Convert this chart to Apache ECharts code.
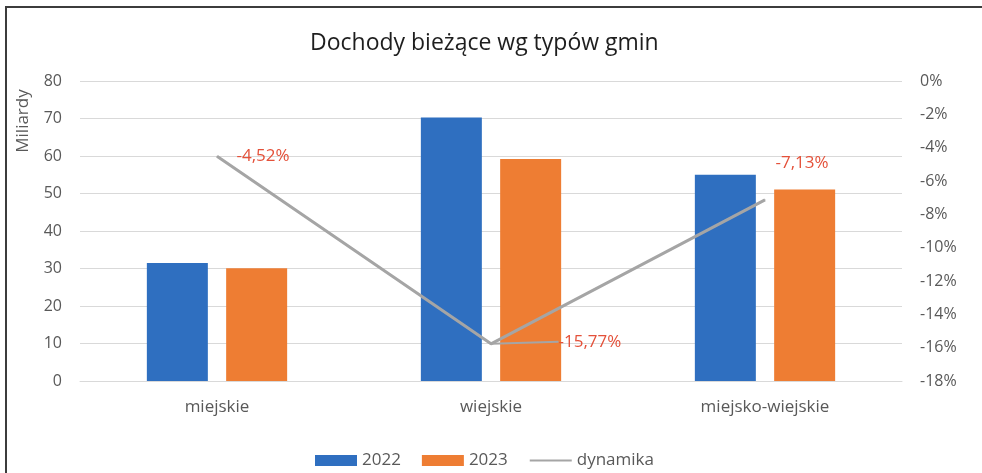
<!DOCTYPE html>
<html>
<head>
<meta charset="utf-8">
<script src="https://cdn.jsdelivr.net/npm/echarts@6/dist/echarts.min.js"></script>
<style>
    html, body { margin: 0; padding: 0; background: #fff; }
    #main { position: absolute; left: 0; top: 0; width: 982px; height: 473px; }
    #frame {
        position: absolute; left: 5px; top: 6px; right: 0; bottom: 0;
        border-top: 2px solid #3c3c3c; border-left: 2px solid #3c3c3c;
        pointer-events: none;
    }
</style>
</head>
<body>
<div id="main"></div>
<div id="frame"></div>
<script>
    // chart values
    const categories = ['miejskie', 'wiejskie', 'miejsko-wiejskie'];
    const values2022 = [31.5, 70.3, 55.0];
    const values2023 = [30.1, 59.2, 51.1];
    const dynamika = [-4.52, -15.77, -7.13];

    const leftTicks = { min: 0, max: 80, step: 10 };
    const rightTicks = { min: -18, max: 0, step: 2 };

    const labelColor = '#595959';
    const font = 'Open Sans';

    // label shifts so they sit like the excel data labels (with leader lines)
    const labelShift = [
        { dx: 14, dy: 0, line: false },
        { dx: 62, dy: -2, line: true },
        { dx: 5, dy: -37, line: false }
    ];

    const chartDom = document.getElementById('main');
    const myChart = echarts.init(chartDom);

    const pct = v => v.toFixed(2).replace('.', ',') + '%';

    const option = {
        animation: false,
        textStyle: { fontFamily: font },
        title: {
            text: 'Dochody bieżące wg typów gmin',
            left: 305,
            top: 27,
            textStyle: { fontFamily: font, fontSize: 23, fontWeight: 'normal', color: '#1e1e1e' }
        },
        legend: {
            left: 310,
            top: 447,
            itemWidth: 42,
            itemHeight: 11,
            itemGap: 21,
            textStyle: { fontFamily: font, fontSize: 17, color: labelColor },
            data: [
                { name: '2022', icon: 'rect' },
                { name: '2023', icon: 'rect' },
                { name: 'dynamika', itemStyle: { opacity: 0 } }
            ]
        },
        grid: { left: 80, right: 80, top: 81, bottom: 92, containLabel: false },
        xAxis: {
            type: 'category',
            data: categories,
            axisTick: { show: false },
            axisLine: { lineStyle: { color: '#d9d9d9', width: 1 } },
            axisLabel: { color: labelColor, fontSize: 17, margin: 18 }
        },
        yAxis: [
            {
                type: 'value',
                min: leftTicks.min,
                max: leftTicks.max,
                interval: leftTicks.step,
                axisLine: { show: false },
                axisTick: { show: false },
                axisLabel: { color: labelColor, fontSize: 16, margin: 18 },
                splitLine: { lineStyle: { color: '#d9d9d9', width: 1 } }
            },
            {
                type: 'value',
                min: rightTicks.min,
                max: rightTicks.max,
                interval: rightTicks.step,
                axisLine: { show: false },
                axisTick: { show: false },
                splitLine: { show: false },
                axisLabel: {
                    color: labelColor, fontSize: 16, margin: 18,
                    formatter: v => (v === 0 ? 0 : v) + '%'
                }
            }
        ],
        graphic: [{
            type: 'text',
            x: 23,
            y: 121,
            rotation: Math.PI / 2,
            style: {
                text: 'Miliardy',
                fill: labelColor,
                font: '17px "Open Sans"',
                align: 'center',
                verticalAlign: 'middle'
            }
        }],
        series: [
            {
                name: '2022',
                type: 'bar',
                data: values2022,
                barWidth: 61,
                barGap: '30%',
                itemStyle: { color: '#2f6fc0' }
            },
            {
                name: '2023',
                type: 'bar',
                data: values2023,
                barWidth: 61,
                itemStyle: { color: '#ee7d33' }
            },
            {
                name: 'dynamika',
                type: 'line',
                yAxisIndex: 1,
                symbol: 'circle',
                symbolSize: 1,
                showSymbol: true,
                itemStyle: { color: '#a5a5a5' },
                lineStyle: { color: '#a5a5a5', width: 3 },
                z: 5,
                data: dynamika.map((v, i) => ({
                    value: v,
                    labelLine: { show: labelShift[i].line }
                })),
                label: {
                    show: true,
                    position: 'right',
                    distance: 5,
                    color: '#e4513a',
                    fontSize: 17,
                    formatter: p => pct(p.value)
                },
                labelLine: {
                    show: true,
                    lineStyle: { color: '#a5a5a5', width: 2 }
                },
                labelLayout: p => ({ dx: labelShift[p.dataIndex].dx, dy: labelShift[p.dataIndex].dy })
            }
        ]
    };

    option && myChart.setOption(option);
</script>
</body>
</html>
